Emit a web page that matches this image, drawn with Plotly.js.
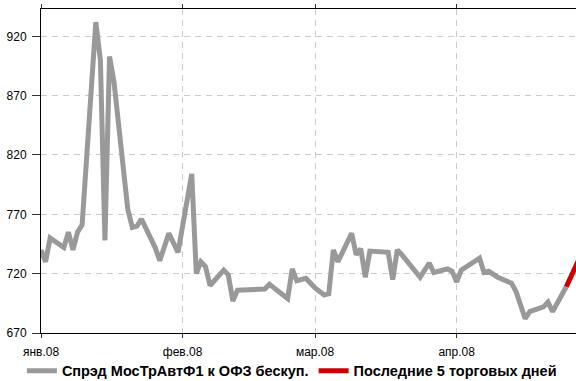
<!DOCTYPE html>
<html>
<head>
<meta charset="utf-8">
<script src="https://cdn.plot.ly/plotly-3.0.1.min.js"></script>
<style>
html,body{margin:0;padding:0;background:#fff;}
#chart{width:576px;height:381px;}
</style>
</head>
<body>
<div id="chart"></div>
<script>
// Spread series (gray)
const spreadDates = [
  '2008-01-01','2008-01-02','2008-01-03','2008-01-06','2008-01-07','2008-01-08','2008-01-09','2008-01-10',
  '2008-01-13','2008-01-14','2008-01-15','2008-01-16','2008-01-17','2008-01-20','2008-01-21','2008-01-22',
  '2008-01-23','2008-01-26','2008-01-27','2008-01-29','2008-01-31','2008-02-03','2008-02-04','2008-02-05',
  '2008-02-06','2008-02-07','2008-02-10','2008-02-11','2008-02-12','2008-02-13','2008-02-19','2008-02-20',
  '2008-02-24','2008-02-25','2008-02-26','2008-02-28','2008-03-01','2008-03-03','2008-03-04','2008-03-05',
  '2008-03-06','2008-03-09','2008-03-10','2008-03-11','2008-03-12','2008-03-13','2008-03-17','2008-03-18',
  '2008-03-19','2008-03-20','2008-03-24','2008-03-26','2008-03-27','2008-03-30','2008-03-31','2008-04-01',
  '2008-04-02','2008-04-06','2008-04-07','2008-04-08','2008-04-10','2008-04-13','2008-04-14','2008-04-16',
  '2008-04-17','2008-04-20','2008-04-21','2008-04-22','2008-04-25'
];
const spreadValues = [
  740,730,750,742,755,740,755,761,
  932,900,748,903,881,774,759,760,
  766,742,731,754,738,804,720,730,
  726,710,723,719,697,706,707,711,
  699,724,714,716,708,702,703,740,
  730,754,736,741,717,739,738,715,
  740,736,717,729,721,724,722,713,
  723,733,721,722,717,712,705,682,
  688,692,696,688,709
];
// Last 5 trading days (red)
const lastDates = ['2008-04-25','2008-04-26','2008-04-27','2008-04-28'];
const lastValues = [709,717,726,734];

const seriesNames = ['Спрэд МосТрАвтФ1 к ОФЗ бескуп.', 'Последние 5 торговых дней'];
const xTickVals = ['2008-01-01','2008-02-01','2008-03-01','2008-04-01'];
const xTickText = ['янв.08','фев.08','мар.08','апр.08'];
const yTickVals = [670,720,770,820,870,920];

const data = [
  {x: spreadDates, y: spreadValues, type:'scatter', mode:'lines', name: seriesNames[0],
   line:{color:'#999999', width:5}},
  {x: lastDates, y: lastValues, type:'scatter', mode:'lines', name: seriesNames[1],
   line:{color:'#cc0000', width:5}}
];

const tickFont = {family:'"Liberation Sans", Arial, sans-serif', size:12, color:'#000'};

const layout = {
  width:576, height:381,
  margin:{l:41, r:0, t:9, b:48, pad:0},
  paper_bgcolor:'#fff', plot_bgcolor:'#fff',
  showlegend:true,
  legend:{orientation:'h', xref:'container', yref:'container',
    x:0.038, xanchor:'left', y:0.027, yanchor:'middle',
    font:{family:'"Liberation Sans", Arial, sans-serif', size:14.5, color:'#000', weight:'bold'},
    bgcolor:'rgba(0,0,0,0)', itemwidth:30, tracegroupgap:0},
  xaxis:{type:'date', range:['2008-01-01','2008-04-27 03:00'],
    tickvals:xTickVals, ticktext:xTickText, tickfont:tickFont,
    showline:true, linecolor:'#000', linewidth:1, mirror:'all',
    ticks:'outside', ticklen:4, tickcolor:'#333', ticklabelstandoff:4,
    showgrid:true, gridcolor:'#cccccc', griddash:'6px,5px', gridwidth:1,
    zeroline:false, fixedrange:true},
  yaxis:{range:[670,943], tickvals:yTickVals, tickfont:tickFont,
    showline:true, linecolor:'#000', linewidth:1, mirror:false,
    ticks:'outside', ticklen:8, tickcolor:'#333', ticklabelstandoff:3,
    showgrid:true, gridcolor:'#cccccc', griddash:'6px,5px', gridwidth:1,
    zeroline:false, fixedrange:true}
};

Plotly.newPlot('chart', data, layout, {displayModeBar:false, staticPlot:true});
</script>
</body>
</html>
